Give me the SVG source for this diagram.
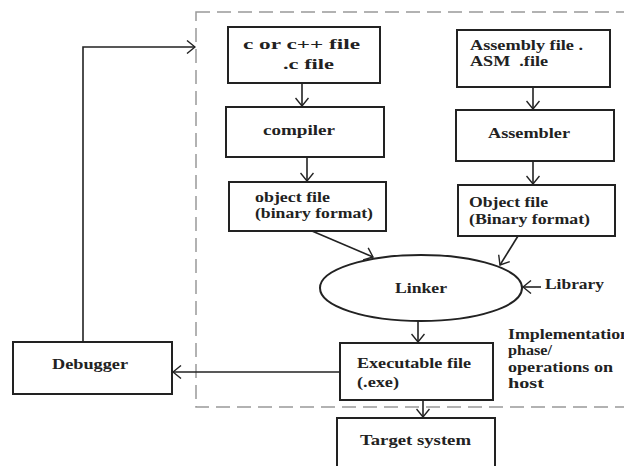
<svg xmlns="http://www.w3.org/2000/svg" width="624" height="466" viewBox="0 0 624 466">
<style>
.box{fill:#fff;stroke:#222;stroke-width:2}
.t{font-family:"Liberation Serif","Times New Roman",serif;font-weight:bold;font-size:15.5px;fill:#222}
.c{fill:none;stroke:#222;stroke-width:1.6}
.dash{fill:none;stroke:#999;stroke-width:1.5;stroke-dasharray:14 7}
</style>
<defs>
<marker id="v" viewBox="0 0 10 14" refX="9" refY="7" markerWidth="10" markerHeight="14" markerUnits="userSpaceOnUse" orient="auto">
<path d="M1,0.5 L9,7 L1,13.5" fill="none" stroke="#222" stroke-width="1.4"/>
</marker>
</defs>
<rect width="624" height="466" fill="#fff"/>
<rect class="dash" x="196" y="12" width="460" height="395"/>

<g id="cfile"><rect class="box" x="228" y="27" width="152" height="56"/>
<text class="t" x="243" y="49" textLength="117" lengthAdjust="spacingAndGlyphs">c or c++ file</text>
<text class="t" x="283" y="69" textLength="51" lengthAdjust="spacingAndGlyphs">.c file</text></g>

<g id="compiler"><rect class="box" x="226" y="107" width="158" height="50"/>
<text class="t" x="263" y="135" textLength="72" lengthAdjust="spacingAndGlyphs">compiler</text></g>

<g id="objfile1"><rect class="box" x="229" y="182" width="157" height="49"/>
<text class="t" x="255" y="202" textLength="75" lengthAdjust="spacingAndGlyphs">object file</text>
<text class="t" x="255" y="218" textLength="118" lengthAdjust="spacingAndGlyphs">(binary format)</text></g>

<g id="asmfile"><rect class="box" x="457" y="30" width="153" height="57"/>
<text class="t" x="470" y="50" textLength="113" lengthAdjust="spacingAndGlyphs">Assembly file .</text>
<text class="t" x="470" y="66" textLength="78" lengthAdjust="spacingAndGlyphs" xml:space="preserve">ASM  .file</text></g>

<g id="assembler"><rect class="box" x="456" y="110" width="158" height="51"/>
<text class="t" x="488" y="138" textLength="82" lengthAdjust="spacingAndGlyphs">Assembler</text></g>

<g id="objfile2"><rect class="box" x="458" y="185" width="157" height="51"/>
<text class="t" x="469" y="207" textLength="79" lengthAdjust="spacingAndGlyphs">Object file</text>
<text class="t" x="469" y="224" textLength="121" lengthAdjust="spacingAndGlyphs">(Binary format)</text></g>

<g id="linker"><ellipse cx="421" cy="288" rx="101" ry="33" fill="#fff" stroke="#222" stroke-width="2"/>
<text class="t" x="395" y="293" textLength="52" lengthAdjust="spacingAndGlyphs">Linker</text></g>

<g id="library"><text class="t" x="545" y="289" textLength="59" lengthAdjust="spacingAndGlyphs">Library</text></g>

<g id="executable"><rect class="box" x="340" y="343" width="153" height="57"/>
<text class="t" x="357" y="368" textLength="114" lengthAdjust="spacingAndGlyphs">Executable file</text>
<text class="t" x="357" y="387" textLength="42" lengthAdjust="spacingAndGlyphs">(.exe)</text></g>

<g id="target"><rect class="box" x="337" y="418" width="158" height="52"/>
<text class="t" x="360" y="445" textLength="111" lengthAdjust="spacingAndGlyphs">Target system</text></g>

<g id="debugger"><rect class="box" x="13" y="342" width="159" height="52"/>
<text class="t" x="52" y="369" textLength="76" lengthAdjust="spacingAndGlyphs">Debugger</text></g>

<g id="note">
<text class="t" x="508" y="339" textLength="122" lengthAdjust="spacingAndGlyphs">Implementation</text>
<text class="t" x="508" y="355" textLength="44" lengthAdjust="spacingAndGlyphs">phase/</text>
<text class="t" x="508" y="372" textLength="105" lengthAdjust="spacingAndGlyphs">operations on</text>
<text class="t" x="508" y="388" textLength="36" lengthAdjust="spacingAndGlyphs">host</text>
</g>

<g id="connectors">
<line class="c" x1="302" y1="83" x2="302" y2="106" marker-end="url(#v)"/>
<line class="c" x1="307" y1="157" x2="307" y2="181" marker-end="url(#v)"/>
<line class="c" x1="312" y1="231" x2="373" y2="257" marker-end="url(#v)"/>
<line class="c" x1="533" y1="87" x2="533" y2="109" marker-end="url(#v)"/>
<line class="c" x1="533" y1="161" x2="533" y2="184" marker-end="url(#v)"/>
<line class="c" x1="518" y1="236" x2="500" y2="265" marker-end="url(#v)"/>
<line class="c" x1="541" y1="287" x2="523" y2="287" marker-end="url(#v)"/>
<line class="c" x1="418" y1="321" x2="418" y2="342" marker-end="url(#v)"/>
<line class="c" x1="423" y1="400" x2="423" y2="417" marker-end="url(#v)"/>
<line class="c" x1="340" y1="372" x2="173" y2="372" marker-end="url(#v)"/>
<polyline class="c" points="83,342 83,47 195,47" stroke-width="2.2" marker-end="url(#v)"/>
</g>
</svg>
